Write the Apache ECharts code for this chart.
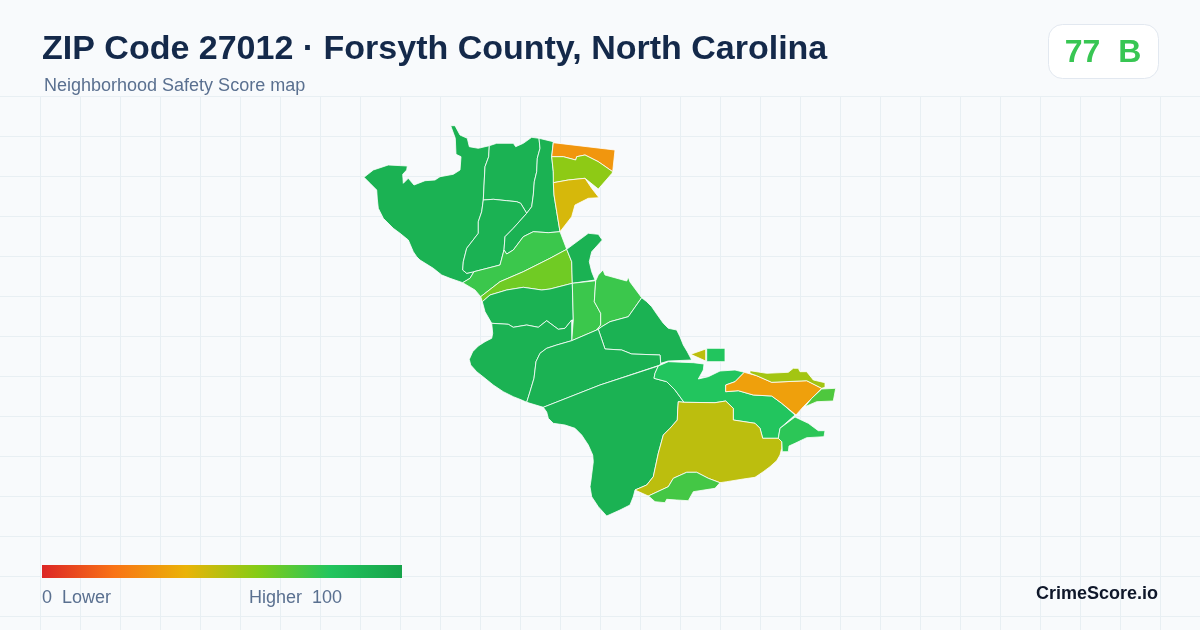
<!DOCTYPE html>
<html><head><meta charset="utf-8">
<style>html,body{margin:0;padding:0;background:#f8fafc}#c{width:1200px;height:630px}</style>
<script src="https://cdn.jsdelivr.net/npm/echarts@6/dist/echarts.min.js"></script>
</head><body><div id="c"></div>
<script>
const titleText = 'ZIP Code 27012 · Forsyth County, North Carolina';
const subtitleText = 'Neighborhood Safety Score map';
const scoreText = '77  B';
const brandText = 'CrimeScore.io';
const legendLow = '0  Lower';
const legendHigh = 'Higher  100';
const rampColors = ['#dc2626','#f97316','#eab308','#84cc16','#22c55e','#16a34a'];

const tractNames = ['A','B','C','D','E','F','G','H','I','J','K','L','M','N','O','P','Q','R','S','T','U','V','W','X1','X2','X3'];
const tractScores = [91,91,91,91,75,64,91,91,75,75,91,91,91,91,80,34,54,71,78,49,73,49,80,31,58,44];

const A=[[364,177.3],[373.3,170],[388.3,165],[407.3,166],[406.7,170],[402.7,174.3],[403.3,183.3],[408.3,178.3],[414,185],[425,180.7],[435,180],[440,176.7],[453.3,174.3],[460,170],[461,156.7],[456,154.3],[455.3,138.3],[450.7,125.7],[455,125.7],[460,135],[467.3,138.3],[469.3,146.7],[478.3,148.3],[489.3,145.7],[488.7,156.7],[485,166.7],[484.3,180],[483.3,200],[481.7,211.7],[478.3,221.7],[478.3,233.3],[466.7,248.3],[463.3,261.7],[462.7,270],[466.7,273.3],[474,271.7],[470,278.3],[462.7,282.7],[450,278.3],[441.7,275],[433.3,268.3],[420,260],[416.7,256.7],[413.3,251.7],[408.3,240],[400,233.3],[393.3,228.3],[383.3,218.3],[378.3,208.3],[377.3,199],[376.7,190],[370,183.3]];
const B=[[489.3,145.7],[496.7,143.3],[513.3,143.3],[515.7,146.7],[523.3,143.3],[531.7,137.3],[539,138.3],[540,148.3],[537.3,158.3],[536.7,171.7],[534.3,181.7],[533.3,195],[531.7,206.7],[526.7,213.3],[520.7,203.3],[516.7,201.7],[506.7,200.7],[493.3,199.3],[483.3,200],[484.3,180],[485,166.7],[488.7,156.7]];
const C=[[483.3,200],[481.7,211.7],[478.3,221.7],[478.3,233.3],[466.7,248.3],[463.3,261.7],[462.7,270],[466.7,273.3],[474,271.7],[500,265],[504,250],[505,236.7],[513.3,228.3],[526.7,213.3],[520.7,203.3],[516.7,201.7],[506.7,200.7],[493.3,199.3]];
const D=[[539,138.3],[553.3,141.7],[551.7,156.7],[553.3,171.7],[554,195],[556.7,211.7],[560,231.7],[548.3,232.7],[533.3,231.7],[523.3,236.7],[513.3,250],[506.7,254],[504,250],[505,236.7],[513.3,228.3],[526.7,213.3],[531.7,206.7],[533.3,195],[534.3,181.7],[536.7,171.7],[537.3,158.3],[540,148.3]];
const E=[[462.7,282.7],[470,278.3],[474,271.7],[500,265],[504,250],[506.7,254],[513.3,250],[523.3,236.7],[533.3,231.7],[548.3,232.7],[560,231.7],[566.7,249.3],[550,258.3],[523.3,271.7],[500,281.7],[480.7,296.7],[475,290]];
const F=[[566.7,249.3],[571.7,261.7],[572.3,283.3],[550,289],[541.7,290],[523.3,287.3],[506.7,290],[490,295],[482.3,301.7],[480.7,296.7],[500,281.7],[523.3,271.7],[550,258.3]];
const G=[[566.7,249.3],[588.3,233.3],[598.3,234.3],[602.3,240],[591.7,251.7],[589.3,261.7],[591.7,271.7],[595,280],[572.3,283.3],[571.7,261.7]];
const H=[[572.3,283.3],[550,289],[541.7,290],[523.3,287.3],[506.7,290],[490,295],[482.3,301.7],[485,311.7],[491.7,323.3],[508.3,324.3],[513.3,327.3],[526.7,325],[538.3,327.3],[546.7,320.7],[558.3,329.3],[565,328.3],[571.7,320],[573.3,320]];
const I=[[572.3,283.3],[595.7,280.7],[594.3,301.7],[600.7,313.3],[600.7,325],[596.7,330],[571.7,340.7],[573.3,320]];
const J=[[595.7,280.7],[598.3,275],[603,270],[605,275],[626.7,281],[628.3,277],[630,282],[641.7,297.7],[628.3,316.7],[610,321.7],[601.7,326.7],[596.7,330],[600.7,325],[600.7,313.3],[594.3,301.7]];
const K=[[641.7,297.7],[646.7,301.7],[651.7,306.7],[656.7,314],[663.3,323.3],[668.3,328.3],[676.7,330],[680,336.7],[683.3,345],[687.3,351.7],[691.7,360],[668.3,361],[660.7,363.3],[660,355],[631.7,354],[621.7,350],[605,349],[598.3,329.3],[601.7,326.7],[610,321.7],[628.3,316.7]];
const L=[[491.7,323.3],[492.7,333.3],[491.7,338.3],[485,341.7],[478.3,346],[472.7,351.7],[469.3,359.3],[470.7,365],[476.7,371.7],[485,378.3],[493.3,385],[503.3,391.7],[513.3,396.7],[521.7,400],[526.7,402.3],[530,391.7],[534,378.3],[536,361.7],[540,353.3],[546.7,348.3],[556.7,345],[571.7,340.7],[571.7,320],[565,328.3],[558.3,329.3],[546.7,320.7],[538.3,327.3],[526.7,325],[513.3,327.3],[508.3,324.3]];
const M=[[526.7,402.3],[543.3,407.3],[600,385],[660,365],[660.7,363.3],[660,355],[631.7,354],[621.7,350],[605,349],[598.3,329.3],[596.7,330],[571.7,340.7],[556.7,345],[546.7,348.3],[540,353.3],[536,361.7],[534,378.3],[530,391.7]];
const N=[[543.3,407.3],[546.7,412],[548.3,418.3],[553.3,423.3],[565,425],[575,428.3],[581.7,435],[588.3,445],[592.7,455],[593.3,461.7],[591,480],[590,486.7],[591.7,496.7],[598.3,506.7],[606.7,516],[620,510],[630,505],[633.3,496.7],[635,490],[646.7,485],[653.3,476.7],[658.3,453.3],[663.3,435],[670,428.3],[677.3,420],[677.7,410],[678.3,401.7],[684,402.3],[675,390],[666.7,381.7],[654,378.3],[655,373.3],[658.3,366],[600,385]];
const O=[[658.3,366],[668.3,361.7],[693.3,362.7],[704,364],[703.3,370],[698.3,379],[708.3,376.7],[720,371],[735,370],[744.3,372.3],[735,381.7],[725.7,385],[725.7,391.7],[738.3,390.7],[753.3,395],[771.7,396],[781.7,403.3],[795,415],[780,428.3],[778.3,438.3],[762.7,438.3],[760,428.3],[755,423.3],[733.3,420],[733.3,408.3],[725.7,401],[715,402.7],[684,402.3],[675,390],[666.7,381.7],[654,378.3],[655,373.3]];
const P=[[744.3,372.3],[756.7,375.7],[771.7,382.3],[806.7,380.7],[821.7,388.3],[811.7,398.3],[803.3,406.7],[796,415],[781.7,403.3],[771.7,396],[753.3,395],[738.3,390.7],[725.7,391.7],[725.7,385],[735,381.7]];
const Q=[[750,370.7],[766.7,373.3],[788.3,372.3],[793.3,368.3],[798.3,368.3],[800,371.7],[806.7,371.7],[813.3,380],[825,382.7],[825,387.3],[821.7,388.3],[806.7,380.7],[771.7,382.3],[756.7,375.7],[750,373.3]];
const R=[[821.7,389],[835.7,388.3],[833.3,401],[816.7,401.7],[805,406.7],[811.7,398.3]];
const S=[[795,417],[808.3,423.3],[818.3,430.7],[825,430.7],[824,436.7],[806.7,437.7],[795,443.3],[789,446],[788.3,451.7],[782.3,451.7],[781.7,441.7],[778.3,438.3],[780,428.3]];
const T=[[684,402.3],[715,402.7],[725.7,401],[733.3,408.3],[733.3,420],[755,423.3],[760,428.3],[762.7,438.3],[778.3,438.3],[781.7,441.7],[781.7,448.3],[780,455],[776.7,460.7],[770,466.7],[763.3,471.7],[755,477.3],[743.3,479],[726.7,481.7],[720,482.7],[708.3,478.3],[696.7,472.3],[686.7,472.3],[673.3,478.3],[668.3,486.7],[648.3,496],[635,490],[646.7,485],[653.3,476.7],[658.3,453.3],[663.3,435],[670,428.3],[677.3,420],[677.7,410],[678.3,401.7]];
const U=[[648.3,496],[668.3,486.7],[673.3,478.3],[686.7,472.3],[696.7,472.3],[708.3,478.3],[720,482.7],[715,488.3],[693.3,491.7],[688.3,500.7],[676.7,500],[666.7,499.3],[665,502.7],[655,501.7],[650,497.3]];
const V=[[690.7,354.3],[705.7,349],[705.7,361]];
const W=[[706.7,348.3],[725,348.3],[725,361.7],[706.7,361.7]];
const X1=[[553.3,142.7],[615,150],[612.7,171.7],[598.3,161.7],[585,155],[576.7,156.7],[575.7,160],[563.3,156.7],[551.7,156.7]];
const X2=[[551.7,156.7],[563.3,156.7],[575.7,160],[576.7,156.7],[585,155],[598.3,161.7],[612.7,171.7],[612,173.3],[598.3,189],[585,178.3],[568.3,180],[553.3,182.7],[553.3,171.7]];
const X3=[[553.3,182.7],[568.3,180],[585,178.3],[591.7,188.3],[599,197.7],[588.3,198.3],[575,205],[571.7,216.7],[560,231.7],[556.7,211.7],[554,195]];
const tractOutlines=[A,B,C,D,E,F,G,H,I,J,K,L,M,N,O,P,Q,R,S,T,U,V,W,X1,X2,X3];

const geojson={type:'FeatureCollection',features:tractNames.map((n,i)=>{
  const ring=tractOutlines[i].map(p=>[p[0],630-p[1]]);ring.push(ring[0]);
  return {type:'Feature',properties:{name:n},geometry:{type:'Polygon',coordinates:[ring]}};
})};
echarts.registerMap('zip27012',geojson);

const chart=echarts.init(document.getElementById('c'),null,{renderer:'canvas'});
const gridColor='#e8eff3';
const lines=[];
for(let x=40;x<=1160;x+=40)lines.push({type:'line',silent:true,z:0,shape:{x1:x+.5,y1:96.5,x2:x+.5,y2:630},style:{stroke:gridColor,lineWidth:1}});
for(let y=97;y<630;y+=40)lines.push({type:'line',silent:true,z:0,shape:{x1:0,y1:y-.5,x2:1200,y2:y-.5},style:{stroke:gridColor,lineWidth:1}});
const font='"Liberation Sans",Arial,sans-serif';
chart.setOption({
  animation:false,
  backgroundColor:'#f8fafc',
  visualMap:{type:'continuous',show:false,min:0,max:100,inRange:{color:rampColors},seriesIndex:0},
  series:[{type:'map',map:'zip27012',silent:true,roam:false,aspectScale:1,
    boundingCoords:[[0,630],[1200,0]],left:0,top:0,width:1200,height:630,
    label:{show:false},itemStyle:{borderColor:'#ffffff',borderWidth:0.8},
    emphasis:{disabled:true},select:{disabled:true},
    data:tractNames.map((n,i)=>({name:n,value:tractScores[i]}))}],
  graphic:lines.concat([
    {type:'text',z:5,x:42,y:33,style:{text:titleText,font:'bold 34px '+font,fill:'#14294a'}},
    {type:'text',z:5,x:44,y:77,style:{text:subtitleText,font:'18px '+font,fill:'#5a7090'}},
    {type:'rect',z:5,shape:{x:1048.5,y:24.5,width:110,height:54,r:14},style:{fill:'#ffffff',stroke:'#e2e8f0',lineWidth:1}},
    {type:'text',z:6,x:1103,y:37,style:{text:scoreText,font:'bold 32px '+font,fill:'#38c653',align:'center'}},
    {type:'rect',z:5,shape:{x:42,y:565,width:360,height:13},style:{fill:new echarts.graphic.LinearGradient(0,0,1,0,rampColors.map((c,i)=>({offset:i/(rampColors.length-1),color:c})))}},
    {type:'text',z:5,x:42,y:589,style:{text:legendLow,font:'18px '+font,fill:'#5a7090'}},
    {type:'text',z:5,x:342,y:589,style:{text:legendHigh,font:'18px '+font,fill:'#5a7090',align:'right'}},
    {type:'text',z:5,x:1158,y:585,style:{text:brandText,font:'bold 18px '+font,fill:'#0f172a',align:'right'}}
  ])
});
</script></body></html>
